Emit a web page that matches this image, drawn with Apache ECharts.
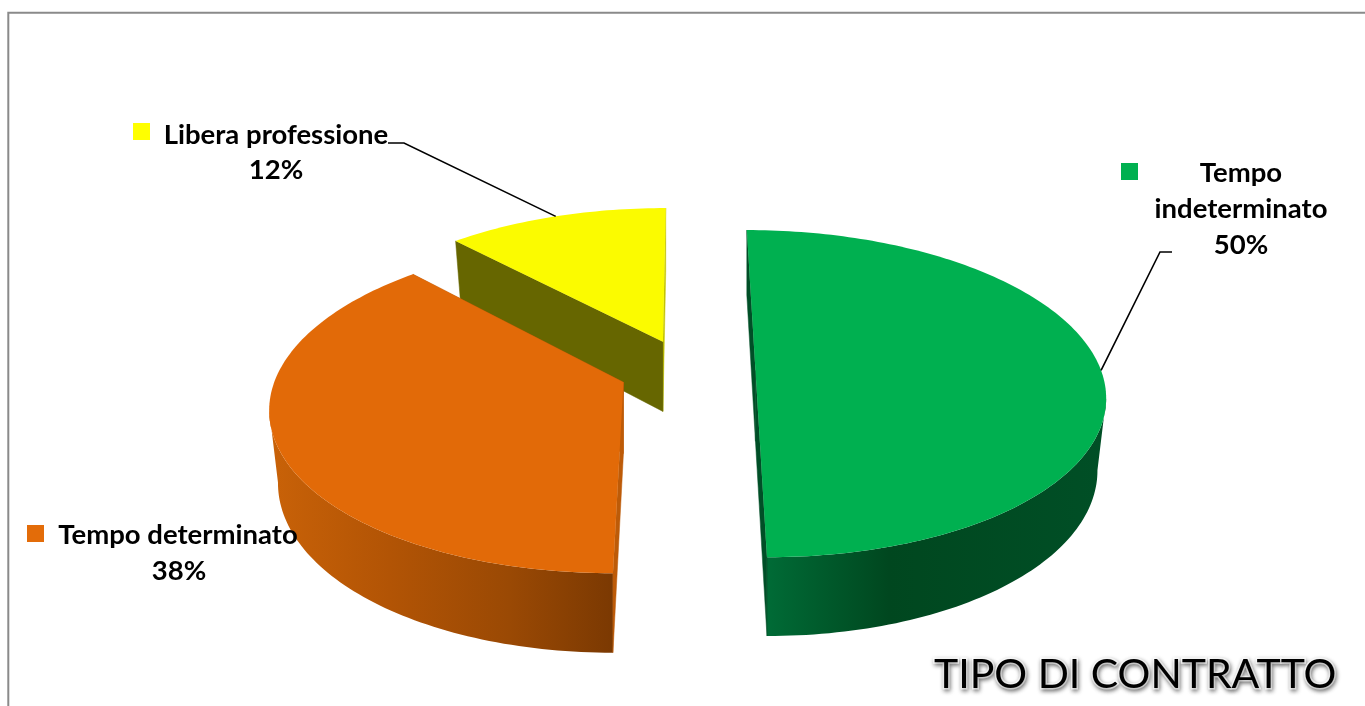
<!DOCTYPE html>
<html><head><meta charset="utf-8">
<style>html,body{margin:0;padding:0;background:#fff}#c{width:1365px;height:706px}</style>
<script src="https://cdn.jsdelivr.net/npm/echarts@6/dist/echarts.min.js"></script>
</head><body><div id="c"></div>
<script>
// ---- data ----
const categories = ['Tempo indeterminato', 'Tempo determinato', 'Libera professione'];
const values = [50, 38, 12];
const chartTitle = 'TIPO DI CONTRATTO';

// ---- styles / layout ----
const topColors = ['#00B050', '#E26A08', '#FBFB00'];
const keyColors = ['#00B050', '#E36C09', '#FFFF00'];
const wallStops = [
  [[0,'#006b36'],[0.36,'#00471f'],[1,'#004f26']],
  [[0,'#c96208'],[0.35,'#b25405'],[0.7,'#9a4904'],[1,'#7b3902']],
  [[0,'#666600'],[1,'#666600']]
];
const startWall = ['#004f27', '#bd5b08', '#666600'];
const endWall = ['#004f27', '#bd5b08', '#c4c400'];
const drawOrder = [3, 2, 1];
// camera: perspective of the tilted disc
const cam = {vx: 686, vy: -758, A: 2433, B: 7944, vyLow: -735, BLow: 8281, Xp: 0.004, Dp: 7.04, explode: 0.197, r: 1, lowSpread: 0.975};
const labelLines = [
  [['Tempo', 1241, 173], ['indeterminato', 1241, 209], ['%', 1241, 245]],
  [['Tempo determinato', 178, 535], ['%', 179, 571]],
  [['Libera professione', 276, 135], ['%', 276, 170]]
];
const keys = [[1121, 163], [27, 525], [133, 123]];
const leaderBends = [[[1160, 252], [1172, 252]], null, [[404, 143], [388, 143]]];

const total = values.reduce((a, b) => a + b, 0);
function project(X, D, low) {
  return [cam.vx + cam.A * X / D, low ? cam.vyLow + cam.BLow / D : cam.vy + cam.B / D];
}
function wedge(i) {
  let before = 0;
  for (let k = 0; k < i; k++) before += values[k];
  const a0 = before / total * 2 * Math.PI, a1 = (before + values[i]) / total * 2 * Math.PI;
  const mid = (a0 + a1) / 2;
  const Xc = cam.Xp + cam.explode * Math.sin(mid), Dc = cam.Dp + cam.explode * Math.cos(mid);
  const rim = (t, low) => project(Xc + cam.r * (low ? cam.lowSpread : 1) * Math.sin(t), Dc + cam.r * Math.cos(t), low);
  const arc = low => {
    const pts = [], n = Math.max(12, Math.round((a1 - a0) * 50));
    for (let j = 0; j <= n; j++) pts.push(rim(a0 + (a1 - a0) * j / n, low));
    return pts;
  };
  return {a0, a1, mid, rim, arc, apex: low => project(Xc, Dc, low)};
}
function renderItem(params, api) {
  const i = params.dataIndex, w = wedge(i), z2 = drawOrder[i];
  const up = w.arc(false), lo = w.arc(true);
  const poly = (points, fill) => ({type: 'polygon', z2, shape: {points}, style: {fill, stroke: fill, lineWidth: 0.5}});
  // only the part of the rim between the silhouette extreme and the front is visible
  const sign = Math.sin(w.mid) >= 0 ? 1 : -1;
  let k = 0;
  up.forEach((p, j) => { if (sign * p[0] > sign * up[k][0]) k = j; });
  const frontIsStart = Math.cos(w.a0) < Math.cos(w.a1);
  const upPart = frontIsStart ? up.slice(0, k + 1) : up.slice(k);
  const loPart = frontIsStart ? lo.slice(0, k + 1) : lo.slice(k);
  const grad = new echarts.graphic.LinearGradient(0, 0, 1, 0, wallStops[i].map(s => ({offset: s[0], color: s[1]})));
  const kids = [];
  if (upPart.length > 1) kids.push({type: 'polygon', z2, shape: {points: upPart.concat(loPart.slice().reverse())}, style: {fill: grad}});
  kids.push(
    poly([w.apex(false), w.rim(w.a1, false), w.rim(w.a1, true), w.apex(true)], endWall[i]),
    poly([w.apex(false), w.rim(w.a0, false), w.rim(w.a0, true), w.apex(true)], startWall[i]),
    {type: 'polygon', z2, shape: {points: [w.apex(false)].concat(up)}, style: {fill: topColors[i]}}
  );
  const pct = Math.round(api.value(0) / total * 100) + '%';
  labelLines[i].forEach(l => kids.push({
    type: 'text', z2: 10, x: l[1], y: l[2],
    style: {text: l[0] === '%' ? pct : l[0], fill: '#000', font: 'bold 27.5px Lato, "Open Sans", sans-serif', textAlign: 'center', textVerticalAlign: 'middle'}
  }));
  kids.push({type: 'rect', z2: 10, shape: {x: keys[i][0], y: keys[i][1], width: 17, height: 17}, style: {fill: keyColors[i]}});
  if (leaderBends[i]) {
    kids.push({type: 'polyline', z2: 10, shape: {points: [w.rim(w.mid, false)].concat(leaderBends[i])}, style: {stroke: '#000', lineWidth: 1.6, fill: null}});
  }
  return {type: 'group', children: kids};
}
const chart = echarts.init(document.getElementById('c'), null, {renderer: 'canvas'});
chart.setOption({
  animation: false,
  backgroundColor: '#fff',
  title: {
    text: chartTitle, left: 934, top: 654, padding: 0,
    textStyle: {fontFamily: 'Lato', fontWeight: 'normal', fontSize: 41, color: '#000',
      textBorderColor: '#fff', textBorderWidth: 3, textShadowColor: 'rgba(0,0,0,0.4)', textShadowBlur: 4, textShadowOffsetX: 1, textShadowOffsetY: 2}
  },
  graphic: [{type: 'polyline', shape: {points: [[8.3, 706], [8.3, 12.7], [1365, 12.7]]}, style: {stroke: '#8a8a8a', lineWidth: 2, fill: null}, silent: true}],
  series: [{
    type: 'custom', coordinateSystem: 'none', renderItem,
    data: values.map((v, i) => ({name: categories[i], value: [v]}))
  }]
});
</script></body></html>
